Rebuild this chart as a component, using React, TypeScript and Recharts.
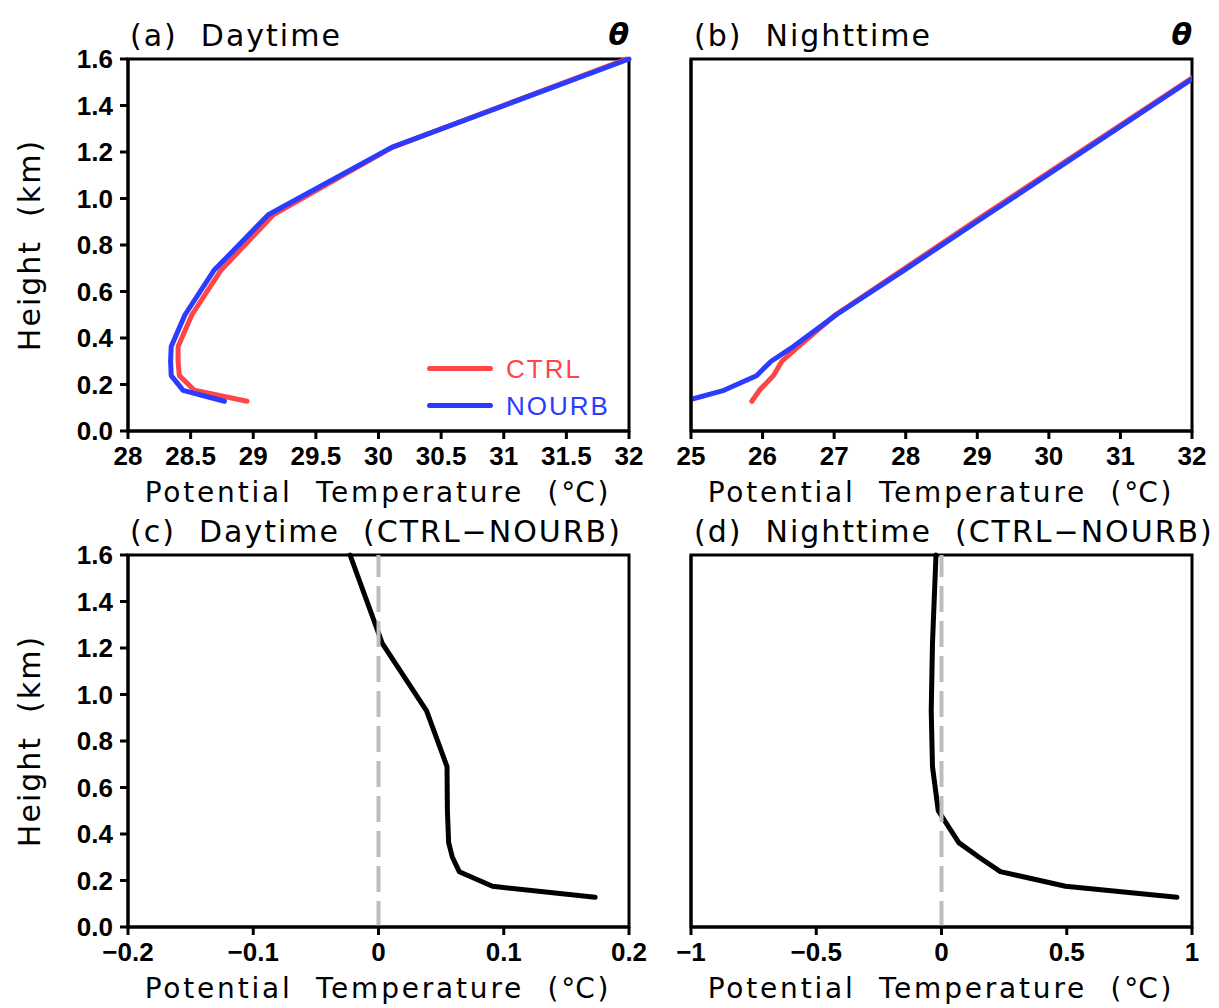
import React from 'react';
import {
  LineChart,
  Line,
  XAxis,
  YAxis,
  ReferenceLine,
  ReferenceArea,
} from 'recharts';

// model levels (km) shared by all profiles
const HEIGHTS = [0.128, 0.175, 0.238, 0.3, 0.363, 0.5, 0.69, 0.93, 1.22, 1.6];

// potential temperature (°C)
const DAY_CTRL = [28.95, 28.53, 28.41, 28.4, 28.4, 28.51, 28.74, 29.16, 30.11, 31.98];
const DAY_NOURB = [28.77, 28.44, 28.345, 28.34, 28.345, 28.455, 28.685, 29.12, 30.105, 32.0];
const NIGHT_CTRL = [25.85, 25.955, 26.15, 26.27, 26.5, 27.02, 27.94, 29.1, 30.53, 32.4];
const NIGHT_NOURB = [24.91, 25.46, 25.915, 26.12, 26.43, 27.03, 27.97, 29.14, 30.56, 32.42];

// CTRL - NOURB
const DAY_DIFF = [0.173, 0.091, 0.0645, 0.059, 0.056, 0.055, 0.0547, 0.0384, 0.003, -0.0227];
const NIGHT_DIFF = [0.94, 0.495, 0.235, 0.15, 0.069, -0.013, -0.036, -0.041, -0.036, -0.022];

const Y_TICKS = [0, 0.2, 0.4, 0.6, 0.8, 1.0, 1.2, 1.4, 1.6];
const DAY_TICKS = [28, 28.5, 29, 29.5, 30, 30.5, 31, 31.5, 32];
const NIGHT_TICKS = [25, 26, 27, 28, 29, 30, 31, 32];
const DAY_DIFF_TICKS = [-0.2, -0.1, 0, 0.1, 0.2];
const NIGHT_DIFF_TICKS = [-1, -0.5, 0, 0.5, 1];

const RED = '#ff4545';
const BLUE = '#2b3cff';
const TEXT_FONT = "'DejaVu Sans', sans-serif";
const TICK_FONT = "'Liberation Sans', Arial, sans-serif";

const dayRows = HEIGHTS.map((h, i) => ({ h, ctrl: DAY_CTRL[i], nourb: DAY_NOURB[i] }));
const nightRows = HEIGHTS.map((h, i) => ({ h, ctrl: NIGHT_CTRL[i], nourb: NIGHT_NOURB[i] }));
const dayDiffRows = HEIGHTS.map((h, i) => ({ h, diff: DAY_DIFF[i] }));
const nightDiffRows = HEIGHTS.map((h, i) => ({ h, diff: NIGHT_DIFF[i] }));

const signed = (v: number) => (v < 0 ? '\u2212' + String(-v) : String(v));

type Series = { key: string; color: string };

interface PanelProps {
  left: number;
  top: number;
  width: number;
  right: number; // margin right
  yAxisWidth: number;
  data: any[];
  series: Series[];
  xDomain: [number, number];
  xTicks: number[];
  xFmt?: (v: number) => string;
  yLabels: boolean;
  zero?: boolean;
  clip?: boolean;
}

function Panel({ left, top, width, right, yAxisWidth, data, series, xDomain, xTicks, xFmt, yLabels, zero, clip }: PanelProps) {
  const tickStyle = { fill: '#000', fontSize: 26, fontFamily: TICK_FONT, fontWeight: 'bold' };
  return (
    <div style={{ position: 'absolute', left, top }}>
      <LineChart
        width={width}
        height={481}
        data={data}
        layout="vertical"
        margin={{ top: 59, right, left: 0, bottom: 0 }}
      >
        <XAxis
          type="number"
          domain={xDomain}
          ticks={xTicks}
          allowDataOverflow={clip}
          height={50}
          tickFormatter={xFmt}
          tick={tickStyle}
          tickSize={8}
          tickMargin={8}
          axisLine={{ stroke: '#000', strokeWidth: 3 }}
          tickLine={{ stroke: '#000', strokeWidth: 3 }}
          interval={0}
        />
        <YAxis
          type="number"
          dataKey="h"
          domain={[0, 1.6]}
          ticks={Y_TICKS}
          reversed
          width={yAxisWidth}
          tickFormatter={(v: number) => v.toFixed(1)}
          tick={yLabels ? tickStyle : false}
          tickSize={8}
          tickMargin={7}
          axisLine={{ stroke: '#000', strokeWidth: 3 }}
          tickLine={yLabels ? { stroke: '#000', strokeWidth: 3 } : false}
          interval={0}
        />
        <ReferenceArea
          x1={xDomain[0]}
          x2={xDomain[1]}
          y1={0}
          y2={1.6}
          fill="none"
          fillOpacity={0}
          stroke="#000"
          strokeWidth={3}
          ifOverflow="visible"
        />
        {series.map((s) => (
          <Line
            key={s.key}
            type="linear"
            dataKey={s.key}
            stroke={s.color}
            strokeWidth={5}
            strokeLinejoin="round"
            strokeLinecap="round"
            dot={false}
            activeDot={false}
            isAnimationActive={false}
          />
        ))}
        {zero && (
          <ReferenceLine x={0} stroke="#bdbdbd" strokeWidth={4} strokeDasharray="26 9" />
        )}
      </LineChart>
    </div>
  );
}

const textBase: React.CSSProperties = {
  position: 'absolute',
  fontFamily: TEXT_FONT,
  color: '#000',
  lineHeight: 1,
  whiteSpace: 'pre',
};

function Title({ x, y, text }: { x: number; y: number; text: string }) {
  return <div style={{ ...textBase, left: x, top: y, fontSize: 30, letterSpacing: 2 }}>{text}</div>;
}

function Theta({ right, y }: { right: number; y: number }) {
  return (
    <div
      style={{
        ...textBase,
        left: right - 40,
        width: 40,
        top: y,
        textAlign: 'right',
        fontSize: 30,
        fontWeight: 'bold',
        fontStyle: 'italic',
      }}
    >
      θ
    </div>
  );
}

function XLabel({ cx, y }: { cx: number; y: number }) {
  return (
    <div
      style={{
        ...textBase,
        left: cx - 300,
        width: 600,
        top: y,
        textAlign: 'center',
        fontSize: 28,
        letterSpacing: 2.8,
      }}
    >
      {'Potential  Temperature  ('}
      <span style={{ letterSpacing: 0 }}>°</span>
      {'C)'}
    </div>
  );
}

function YLabel({ cx, cy }: { cx: number; cy: number }) {
  return (
    <div
      style={{
        ...textBase,
        left: cx,
        top: cy,
        fontSize: 30,
        letterSpacing: 2,
        transform: 'translate(-50%, -50%) rotate(-90deg)',
      }}
    >
      {'Height  (km)'}
    </div>
  );
}

export default function App() {
  return (
    <div style={{ position: 'absolute', left: 0, top: 0, width: 1219, height: 1008, background: '#fff' }}>
      <Panel
        left={0}
        top={0}
        width={660}
        right={31}
        yAxisWidth={128}
        data={dayRows}
        series={[
          { key: 'ctrl', color: RED },
          { key: 'nourb', color: BLUE },
        ]}
        xDomain={[28, 32]}
        xTicks={DAY_TICKS}
        yLabels
      />
      <Panel
        left={640}
        top={0}
        width={579}
        right={27}
        yAxisWidth={51}
        data={nightRows}
        series={[
          { key: 'ctrl', color: RED },
          { key: 'nourb', color: BLUE },
        ]}
        xDomain={[25, 32]}
        xTicks={NIGHT_TICKS}
        yLabels={false}
        clip
      />
      <Panel
        left={0}
        top={496}
        width={660}
        right={31}
        yAxisWidth={128}
        data={dayDiffRows}
        series={[{ key: 'diff', color: '#000' }]}
        xDomain={[-0.2, 0.2]}
        xTicks={DAY_DIFF_TICKS}
        xFmt={signed}
        yLabels
        zero
      />
      <Panel
        left={640}
        top={496}
        width={579}
        right={27}
        yAxisWidth={51}
        data={nightDiffRows}
        series={[{ key: 'diff', color: '#000' }]}
        xDomain={[-1, 1]}
        xTicks={NIGHT_DIFF_TICKS}
        xFmt={signed}
        yLabels={false}
        zero
      />

      <Title x={130} y={21} text="(a)  Daytime" />
      <Theta right={629} y={20} />
      <Title x={694} y={21} text="(b)  Nighttime" />
      <Theta right={1192} y={20} />
      <Title x={130} y={517} text={'(c)  Daytime  (CTRL\u2212NOURB)'} />
      <Title x={694} y={517} text={'(d)  Nighttime  (CTRL\u2212NOURB)'} />

      <XLabel cx={378} y={479} />
      <XLabel cx={941} y={479} />
      <XLabel cx={378} y={975} />
      <XLabel cx={941} y={975} />
      <YLabel cx={30} cy={245} />
      <YLabel cx={30} cy={741} />

      {/* legend in panel (a) */}
      <div style={{ position: 'absolute', left: 427, top: 365.5, width: 66, height: 5, borderRadius: 3, background: RED }} />
      <div style={{ position: 'absolute', left: 427, top: 402.5, width: 66, height: 5, borderRadius: 3, background: BLUE }} />
      <div style={{ ...textBase, left: 506, top: 356, fontFamily: "'Liberation Sans', Arial, sans-serif", fontSize: 26, letterSpacing: 2, color: RED }}>
        CTRL
      </div>
      <div style={{ ...textBase, left: 506, top: 393, fontFamily: "'Liberation Sans', Arial, sans-serif", fontSize: 26, letterSpacing: 2, color: BLUE }}>
        NOURB
      </div>
    </div>
  );
}
